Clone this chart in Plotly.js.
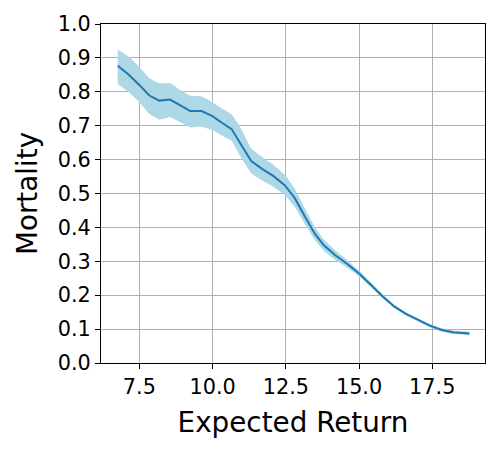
<!DOCTYPE html>
<html>
<head>
<meta charset="utf-8">
<script src="https://cdn.plot.ly/plotly-3.0.1.min.js"></script>
<style>html,body{margin:0;padding:0;background:#fff;}#chart{width:500px;height:450px;}</style>
</head>
<body>
<div id="chart"></div>
<script>
const expectedReturn = [6.76, 7.12, 7.49, 7.84, 8.18, 8.55, 8.90, 9.24, 9.62, 9.98, 10.33, 10.65, 10.98, 11.32, 11.70, 12.07, 12.47, 12.81, 13.15, 13.50, 13.80, 14.20, 14.60, 15.00, 15.40, 15.80, 16.20, 16.60, 17.00, 17.40, 17.80, 18.20, 18.77];
const mortality = [0.877, 0.852, 0.821, 0.789, 0.774, 0.777, 0.760, 0.743, 0.743, 0.729, 0.708, 0.690, 0.643, 0.596, 0.572, 0.552, 0.524, 0.486, 0.432, 0.380, 0.347, 0.317, 0.292, 0.264, 0.231, 0.197, 0.167, 0.145, 0.128, 0.111, 0.098, 0.091, 0.087];
const upper = [0.925, 0.905, 0.875, 0.840, 0.825, 0.826, 0.805, 0.788, 0.786, 0.770, 0.750, 0.733, 0.690, 0.633, 0.607, 0.585, 0.555, 0.513, 0.456, 0.400, 0.364, 0.331, 0.303, 0.272, 0.238, 0.203, 0.172, 0.150, 0.133, 0.116, 0.103, 0.096, 0.092];
const lower = [0.823, 0.800, 0.770, 0.735, 0.718, 0.725, 0.710, 0.695, 0.697, 0.688, 0.670, 0.655, 0.605, 0.560, 0.538, 0.520, 0.495, 0.460, 0.410, 0.362, 0.331, 0.303, 0.281, 0.256, 0.224, 0.191, 0.162, 0.140, 0.123, 0.106, 0.093, 0.086, 0.082];

const traces = [
  {x: expectedReturn, y: lower, mode: 'lines', line: {width: 0, color: 'lightblue', shape: 'spline', smoothing: 0.3}, hoverinfo: 'skip', showlegend: false},
  {x: expectedReturn, y: upper, mode: 'lines', line: {width: 0, color: 'lightblue', shape: 'spline', smoothing: 0.3}, fill: 'tonexty', fillcolor: 'lightblue', hoverinfo: 'skip', showlegend: false},
  {x: expectedReturn, y: mortality, mode: 'lines', line: {width: 2, color: '#1f77b4'}, showlegend: false}
];

const tickFont = {family: 'DejaVu Sans', size: 20.8, color: '#000'};
const titleFont = {family: 'DejaVu Sans', size: 27.8, color: '#000'};
const layout = {
  width: 500, height: 450,
  margin: {l: 101, r: 15, t: 24, b: 87, pad: 0},
  paper_bgcolor: '#fff', plot_bgcolor: '#fff',
  font: {family: 'DejaVu Sans', color: '#000'},
  showlegend: false,
  xaxis: {
    range: [6.19, 19.30],
    tickvals: [7.5, 10.0, 12.5, 15.0, 17.5],
    ticktext: ['7.5', '10.0', '12.5', '15.0', '17.5'],
    tickfont: tickFont,
    ticks: 'outside', ticklen: 5, tickcolor: '#000', tickwidth: 1,
    showline: true, linecolor: '#000', linewidth: 1, mirror: true,
    showgrid: true, gridcolor: '#b0b0b0', gridwidth: 1,
    zeroline: false,
    title: {text: 'Expected Return', font: titleFont, standoff: 14}
  },
  yaxis: {
    range: [0, 1.0],
    tickvals: [0, 0.1, 0.2, 0.3, 0.4, 0.5, 0.6, 0.7, 0.8, 0.9, 1.0],
    ticktext: ['0.0', '0.1', '0.2', '0.3', '0.4', '0.5', '0.6', '0.7', '0.8', '0.9', '1.0'],
    tickfont: tickFont,
    ticks: 'outside', ticklen: 5, tickcolor: '#000', tickwidth: 1,
    showline: true, linecolor: '#000', linewidth: 1, mirror: true,
    showgrid: true, gridcolor: '#b0b0b0', gridwidth: 1,
    zeroline: false,
    title: {text: 'Mortality', font: titleFont, standoff: 12}
  }
};

Plotly.newPlot('chart', traces, layout, {displayModeBar: false, staticPlot: true});
</script>
</body>
</html>
